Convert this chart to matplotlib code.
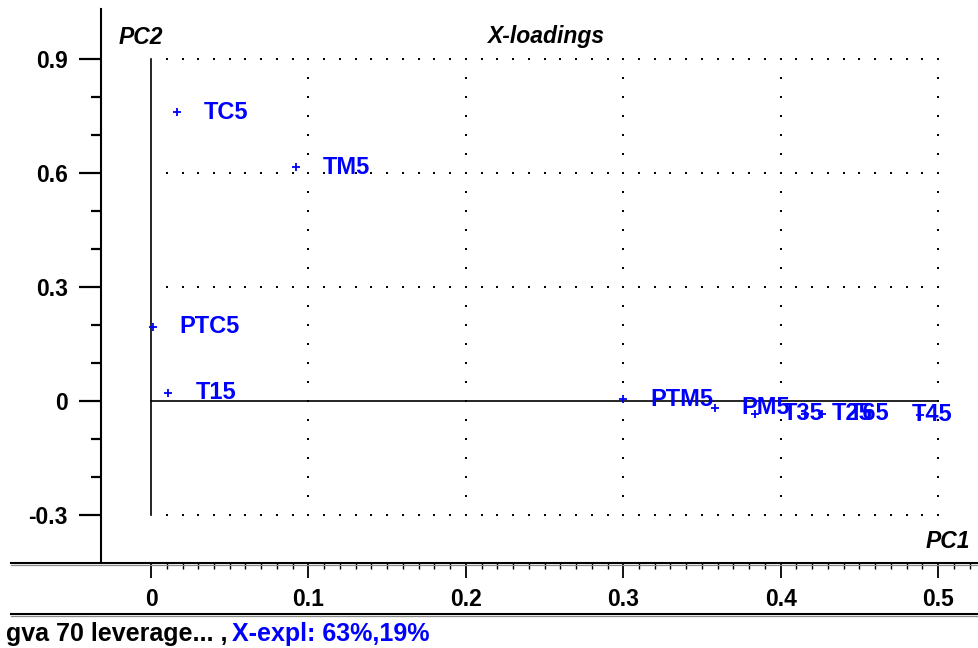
import numpy as np
import matplotlib
matplotlib.use("Agg")
import matplotlib.pyplot as plt
from matplotlib.lines import Line2D

# X-loadings of the PCA model (PC1 vs PC2)
variables = ["TC5", "TM5", "PTC5", "T15", "PTM5", "PM5", "T35", "T25", "T65", "T45"]
pc1 = [0.0165, 0.092, 0.001, 0.011, 0.300, 0.358, 0.384, 0.4155, 0.426, 0.4886]
pc2 = [0.760, 0.615, 0.195, 0.021, 0.005, -0.018, -0.034, -0.034, -0.034, -0.036]

x_ticks = [0, 0.1, 0.2, 0.3, 0.4, 0.5]
x_tick_labels = ["0", "0.1", "0.2", "0.3", "0.4", "0.5"]
y_ticks = [-0.3, 0, 0.3, 0.6, 0.9]
y_tick_labels = ["-0.3", "0", "0.3", "0.6", "0.9"]

title = "X-loadings"
footer_model = "gva 70 leverage... ,"
footer_expl = "X-expl: 63%,19%"

FONT = ["Liberation Sans", "DejaVu Sans"]
plt.rcParams["font.family"] = FONT
BLUE = "#0000ff"

W, H = 979, 648
fig = plt.figure(figsize=(W / 100, H / 100), dpi=100)


def fx(px):
    return px / W


def fy(py):
    return 1 - py / H


# plot area: left axis line at x=101px, baseline at y=563px
ax = fig.add_axes([fx(101), fy(563), fx(W - 101), (563 - 9) / H])
ax.set_xlim(-0.0318, 0.526)
ax.set_ylim(-0.4265, 1.0316)
for s in ["top", "right", "bottom"]:
    ax.spines[s].set_visible(False)
ax.spines["left"].set_linewidth(1.5)

ax.set_yticks(y_ticks)
ax.set_yticklabels(y_tick_labels, fontsize=16.5, fontweight="bold")
ax.set_yticks([-0.2, -0.1, 0.1, 0.2, 0.4, 0.5, 0.7, 0.8], minor=True)
ax.tick_params(axis="y", which="major", length=16, width=1.6, pad=8, direction="out")
ax.tick_params(axis="y", which="minor", length=7, width=1.6, direction="out")

ax.set_xticks(x_ticks)
ax.set_xticklabels(x_tick_labels, fontsize=16.5, fontweight="bold")
ax.set_xticks(np.round(np.arange(0, 0.525, 0.01), 2), minor=True)
ax.tick_params(axis="x", which="major", length=11, width=1.3, pad=7, direction="out")
ax.tick_params(axis="x", which="minor", length=4, width=1.0, direction="out")

# dotted reference grid
gx = np.arange(0.01, 0.5001, 0.01)
for gy in [0.9, 0.6, 0.3, -0.3]:
    ax.plot(gx, np.full_like(gx, gy), ls="none", marker="s", ms=1.5, mew=0,
            color="black")
gyv = np.arange(-0.3, 0.9001, 0.05)
for xv in [0.1, 0.2, 0.3, 0.4, 0.5]:
    ax.plot(np.full_like(gyv, xv), gyv, ls="none", marker="s", ms=1.5, mew=0,
            color="black")

# origin axes
ax.plot([0, 0], [-0.3, 0.9], color="black", lw=1.2)
ax.plot([0, 0.5], [0, 0], color="black", lw=1.2)

# loadings
ax.plot(pc1, pc2, ls="none", marker="+", ms=5.5, mew=1.3, color=BLUE)
label_dx = {"T45": -6}
for name, x, y in zip(variables, pc1, pc2):
    ax.annotate(name, (x, y), xytext=(label_dx.get(name, 19.5), 0),
                textcoords="offset points", ha="left", va="center",
                fontsize=17, fontweight="bold", color=BLUE)

# framing rules across the figure
for yy in [563, 614]:
    fig.add_artist(Line2D([fx(11), 1.0], [fy(yy), fy(yy)], color="black", lw=1.5))
    fig.add_artist(Line2D([fx(11), 1.0], [fy(yy + 1.6), fy(yy + 1.6)],
                          color="#8a8a8a", lw=0.9))

fig.text(fx(141), fy(37), "PC2", ha="center", va="center", fontsize=16.5,
         fontweight="bold", style="italic")
fig.text(fx(546), fy(37), title, ha="center", va="center", fontsize=16.5,
         fontweight="bold", style="italic")
fig.text(fx(970), fy(541), "PC1", ha="right", va="center", fontsize=16.5,
         fontweight="bold", style="italic")

t1 = fig.text(fx(6), fy(634), footer_model, ha="left", va="center", fontsize=18,
              fontweight="bold", color="black")
ax.annotate(footer_expl, xy=(1, 0.5), xycoords=t1, xytext=(3, 0),
            textcoords="offset points", ha="left", va="center", fontsize=18,
            fontweight="bold", color=BLUE, annotation_clip=False)

fig.savefig("out.png", dpi=100)
